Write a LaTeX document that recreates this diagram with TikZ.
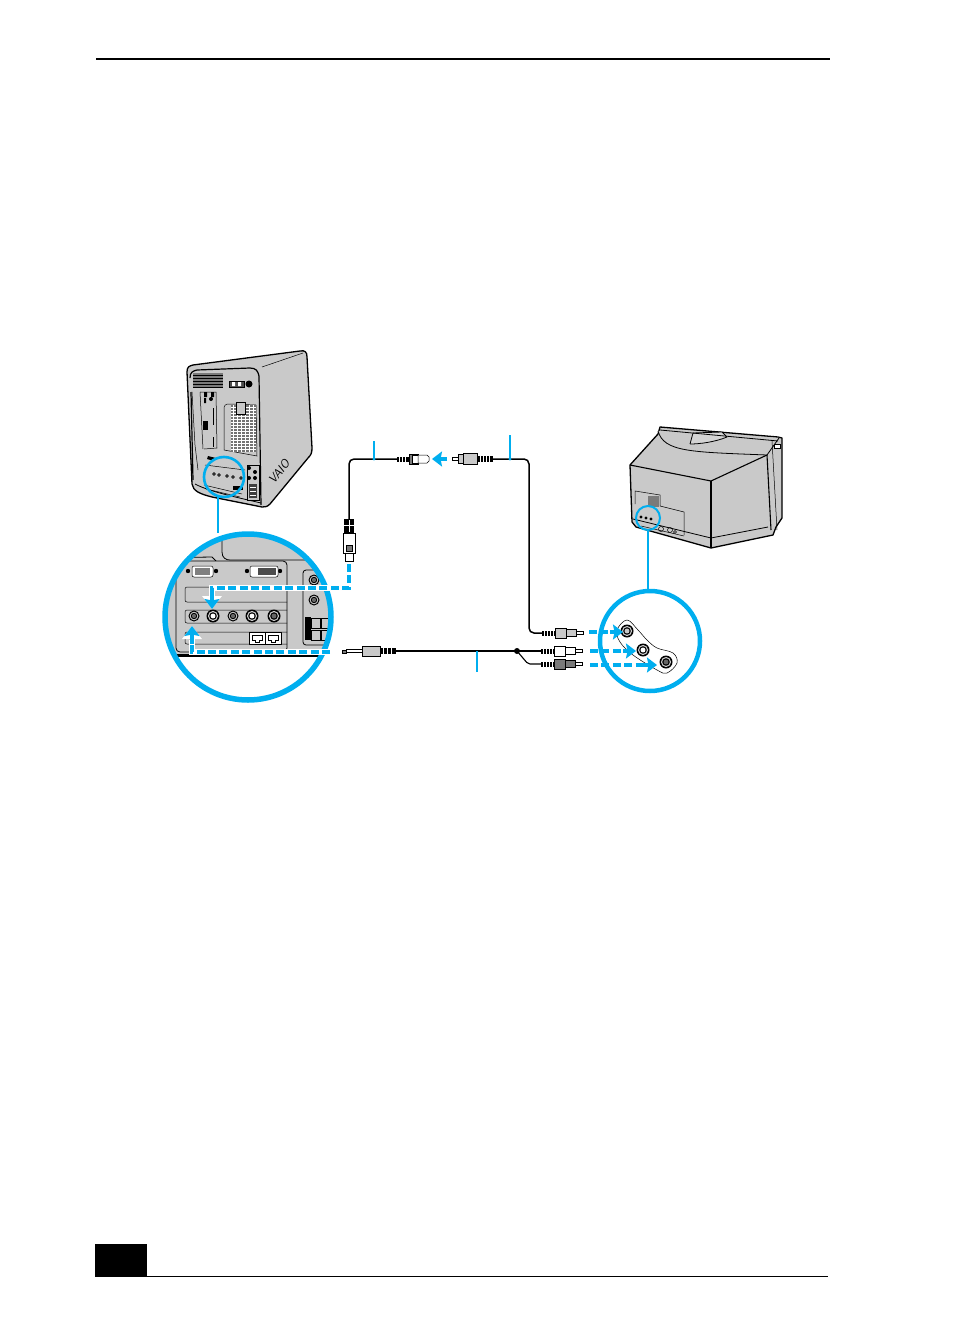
\documentclass[tikz,border=0pt]{standalone}
\usepackage{xcolor}
\usetikzlibrary{arrows.meta}
\definecolor{vaioblue}{HTML}{00AEEF}
\definecolor{casegray}{HTML}{C9C9C9}
\definecolor{darkgray}{HTML}{7A7A7A}
\tikzset{
  % Hardware outlines
  hw/.style={draw=black, line width=0.8pt, line join=round},
  thin/.style={draw=black, line width=0.5pt},
  % Cables and blue call-outs
  cable/.style={draw=black, line width=1.5pt, rounded corners=5pt},
  leader/.style={draw=vaioblue, line width=1.1pt},
  ring/.style={draw=vaioblue, line width=4.5pt},
  dashhalo/.style={draw=white, line width=5.4pt},
  dashblue/.style={draw=vaioblue, line width=3.2pt, dash pattern=on 8pt off 3.4pt},
  blockhalo/.style={draw=white, line width=5pt, -{Stealth[inset=0pt,length=13pt,width=19pt]}},
  blockarrow/.style={draw=vaioblue, line width=3.2pt, -{Stealth[inset=1.5pt,length=10pt,width=15pt]}},
}
% jack: x, y, radius, centre colour
\newcommand{\jack}[4]{%
  \fill[black] (#1,#2) circle ({#3});
  \fill[casegray] (#1,#2) circle ({0.78*#3});
  \fill[black] (#1,#2) circle ({0.58*#3});
  \fill[#4] (#1,#2) circle ({0.38*#3});}
% RCA plug pointing right: x, y, body colour
\newcommand{\rcaplug}[3]{%
  \fill[black] (#1,#2-2.5) rectangle (#1+13,#2+2.5);
  \foreach \i in {2,5,8,11} {\fill[white] (#1+\i,#2-3) rectangle (#1+\i+0.8,#2+3);}
  \draw[thin, fill=#3] (#1+13,#2-5) rectangle (#1+24,#2+5);
  \draw[thin, fill=#3] (#1+24,#2-3.5) rectangle (#1+34,#2+3.5);
  \draw[thin, fill=white] (#1+34,#2-1.5) rectangle (#1+41,#2+1.5);}
% white-edged blue arrow head
\newcommand{\haloarrow}[4]{%
  \draw[blockhalo] (#1,#2) -- (#3,#4);
  \draw[blockarrow] (#1,#2) -- (#3,#4);}

\begin{document}
\begin{tikzpicture}[x=1pt,y=-1pt]
  \useasboundingbox (0,0) rectangle (954,1340);

  % page rules
  \fill[black] (96,58) rectangle (830,60);
  \fill[black] (95,1244) rectangle (147,1277);
  \fill[black] (147,1275.5) rectangle (828,1277);

  % computer
  \draw[hw, fill=casegray, line width=1.3pt] (187,372) .. controls (187,367) and (189,366) .. (193,365)
     -- (300,351) .. controls (305,350) and (307,352) .. (307,357) -- (312,448)
     .. controls (312,453) and (311,455) .. (308,458) -- (270,504)
     .. controls (267,507) and (265,507) .. (262,507) -- (212,497)
     .. controls (200,494) and (193,491) .. (192,484) -- cycle;
  \draw[hw, line width=1.2pt] (190,378) .. controls (190,372) and (193,371) .. (197,370) -- (250,368)
     .. controls (256,368) and (258,371) .. (259,376) -- (261,505);
  \draw[hw] (195,484) .. controls (210,492) and (240,498) .. (261,503);
  \draw[thin] (262,367) -- (303,353);
  \fill[darkgray] (193,373) rectangle (223,388);
  \foreach \i in {375,378,...,387} {\draw[black, line width=0.5pt] (193,\i) -- (223,\i);}
  \draw[thin, fill=black!70] (229,381) rectangle (244,387);
  \fill[white] (232,382) rectangle (235,386) (238,382) rectangle (241,386);
  \fill[black] (249,384) circle (3.5);
  % expansion slots and vent
  \draw[hw, line width=1.2pt] (191,392) -- (193,480);
  \draw[thin] (192,392) -- (195,445) -- (198,470);
  \draw[thin] (200,392) -- (216,392) -- (217,448) -- (204,449);
  \draw[thin] (200,392) -- (203,449);
  \fill[black] (204,392) rectangle (207,397) (211,392) rectangle (214,397);
  \fill[black] (204,398) rectangle (206,403) (211,399) circle (2);
  \draw[thin] (213,408) -- (213,425) (213,437) -- (213,447);
  \fill[black] (203,421) rectangle (208,430);
  \draw[thin, fill=casegray] (224,410) .. controls (224,405) and (225,404) .. (230,404) -- (256,405) -- (257,456) -- (224,450) -- cycle;
  \fill[black!55] (231,405) rectangle (256,452);
  \foreach \i in {407,410,...,451} {\draw[white, line width=0.5pt] (231,\i) -- (256,\i);}
  \foreach \i in {233,237,...,255} {\draw[white, line width=0.5pt] (\i,405) -- (\i,452);}
  \draw[thin, fill=casegray] (236,402) rectangle (245,414);
  \fill[black] (208,456) -- (216,458) -- (214,461) -- (207,459) -- cycle;
  % rear connectors
  \draw[thin] (205,465) -- (245,470) (204,485) -- (242,494) (206,489) -- (240,497);
  \foreach \i/\j in {214/474,219/475,227/476,233/477,241/478} {\fill[black] (\i,\j) circle (1.8); \fill[casegray] (\i,\j) circle (0.7);}
  \fill[black] (233,486) rectangle (243,490);
  \draw[thin, fill=casegray] (247,465) rectangle (259,500);
  \fill[black] (249,468) circle (2) (255,472) circle (2) (249,478) circle (2) (255,478) circle (2);
  \fill[black!75] (249,484) rectangle (257,498);
  \foreach \i in {487,491,495} {\fill[white] (250,\i) rectangle (256,\i+1);}
  % logo
  \node[font=\itshape\sffamily\large, rotate=52, text=black, inner sep=0pt] (logo) at (279,472) {VAIO};
  \draw[ring, line width=2.6pt] (224,477) circle (20);
  \draw[ring, line width=2pt] (218,497) -- (218,533);

  % television
  \draw[hw, fill=casegray, line width=1.3pt] (630,465) -- (658,434) -- (660,427) -- (778,437) -- (782,438)
     -- (782,518) -- (776,527) -- (773,535) -- (711,548) -- (636,527) -- (632,522) -- cycle;
  \draw[hw, fill=casegray] (658,431) .. controls (664,452) and (690,452) .. (767,455) -- (779,438);
  \draw[hw, fill=casegray!80] (690,444) -- (693,433) -- (722,432) -- (727,437) .. controls (715,442) and (700,444) .. (690,444);
  \draw[hw] (660,430) -- (778,441);
  \draw[hw, line width=1.1pt] (630,465) -- (711,481) -- (767,455) -- (771,530);
  \draw[hw, line width=1.1pt] (711,481) -- (711,548);
  \draw[hw] (711,538) -- (768,527);
  \draw[hw] (633,519) -- (711,538);
  \draw[thin] (772,441) -- (777,530);
  \fill[white, draw=black, line width=0.4pt] (774,444) rectangle (780,448);
  \draw[thin] (635,504) -- (635,491) -- (660,495) -- (660,506) -- (684,512) -- (684,535);
  \draw[thin] (641,526) -- (684,536);
  \fill[darkgray] (648,496) rectangle (659,507);
  \foreach \i/\j in {641/517,646/518,651/519} {\fill[black] (\i,\j) circle (1.7);}
  \draw[thin] (661,529) circle (2.5) (670,530) circle (2.5) (675,532) circle (1.5);
  \draw[ring, line width=2pt] (648,518) circle (12);
  \draw[ring, line width=2pt] (648,530) -- (648,590);

  % enlarged computer panel
  \begin{scope}
    \clip (248,617) circle (84);
    \fill[casegray] (150,530) rectangle (340,654);
    \fill[white] (150,656) rectangle (340,710);
    \fill[black] (150,654) rectangle (340,656.5);
    \draw[hw] (222,530) -- (222,552) .. controls (222,558) and (226,560) .. (230,560) -- (340,560);
    \draw[hw] (150,558) -- (212,557) -- (216,561);
    \draw[hw, fill=casegray, rounded corners=4pt] (176,652) -- (176,561) -- (287,561) -- (287,652) -- cycle;
    \draw[hw, fill=casegray, rounded corners=3pt] (342,570) -- (303,570) -- (303,645) -- (342,645);
    \draw[thin, rounded corners=2pt] (287,587) -- (185,587) -- (185,602) -- (287,602);
    \draw[thin, rounded corners=2pt] (287,610) -- (185,610) -- (185,623) -- (287,623);
    \draw[thin, rounded corners=2pt] (287,632) -- (185,632) -- (185,644) -- (287,644);
    % VGA and DVI
    \draw[thin, fill=white, rounded corners=2pt] (192,566) rectangle (213,577);
    \fill[black!50] (195,568) rectangle (210,575);
    \fill[black] (188,571) circle (2.2) (216,571) circle (2.2) (247,571) circle (2.2) (280,571) circle (2.2);
    \draw[thin, fill=white, rounded corners=2pt] (250,566) rectangle (278,577);
    \fill[black!70] (258,568) rectangle (276,575);
    % audio and video jacks
    \jack{194}{616}{5.5}{black!60}
    \jack{213}{616}{6.5}{white}
    \jack{233}{616}{5.5}{black!60}
    \jack{252}{616}{6.5}{white}
    \jack{274}{616}{6.5}{black!60}
    % modem and network
    \draw[hw, fill=white] (249,632) rectangle (265,644);
    \draw[hw, fill=white] (265,632) rectangle (281,644);
    \draw[thin] (252,635) -- (262,635) -- (262,640) -- (259,640) -- (259,642) -- (255,642) -- (255,640) -- (252,640) -- cycle;
    \draw[thin] (268,635) -- (278,635) -- (278,640) -- (275,640) -- (275,642) -- (271,642) -- (271,640) -- (268,640) -- cycle;
    % second panel
    \jack{314}{580}{5.5}{black!60}
    \jack{314}{600}{5.5}{black!60}
    \fill[black] (305,617) rectangle (311,640);
    \draw[thin, fill=casegray] (311,618) rectangle (320,628);
    \draw[thin, fill=casegray] (311,630) rectangle (320,640);
    \draw[thin, fill=casegray] (321,618) rectangle (330,628);
    \draw[thin, fill=casegray] (321,630) rectangle (330,640);
  \end{scope}
  \draw[ring, line width=5.5pt] (248,617) circle (83);

  % enlarged television panel
  \draw[ring] (650,641) circle (50);
  \draw[thin] plot[smooth cycle, tension=0.6] coordinates {(627,620) (638,630) (647,640) (657,648) (673,653) (677,663) (667,673) (657,670) (633,655) (620,642) (617,630)};
  \jack{627}{631}{6.5}{casegray}
  \jack{643}{650}{6.5}{white}
  \jack{666}{662}{6.5}{black!60}

  % cables
  \draw[cable] (349,520) -- (349,459) -- (398,459);
  \draw[cable] (492,459) -- (529,459) -- (529,633) -- (542,633);
  \draw[cable, rounded corners=0pt] (396,651) -- (541,651);
  \draw[cable, line width=1.1pt, rounded corners=2pt] (517,651) -- (528,664) -- (541,664);
  \fill[black] (517,651) circle (3);

  % S-video plug
  \fill[black] (344,519) rectangle (354,533);
  \draw[white, line width=0.6pt] (349,520) -- (349,532) (344,525) -- (354,525);
  \draw[thin, fill=white] (343,533) rectangle (355,553);
  \draw[thin, fill=white] (345,553) rectangle (353,561);
  \draw[thin, fill=darkgray] (346,545) rectangle (352,551);
  % S-video socket end
  \fill[black] (397,456.5) rectangle (409,461.5);
  \foreach \i in {399,402,405} {\fill[white] (\i,456) rectangle (\i+0.8,462);}
  \draw[thin, fill=darkgray] (409,454) rectangle (418,464);
  \draw[thin, fill=white] (412,455) rectangle (418,463);
  \draw[thin, fill=white] (418,455) -- (427,455) -- (429,457) -- (429,461) -- (427,463) -- (418,463) -- cycle;
  % RCA plug to the left
  \draw[thin, fill=white] (452,457.5) rectangle (458,460.5);
  \draw[thin, fill=casegray] (458,454.5) rectangle (463,463.5);
  \draw[thin, fill=casegray] (463,453.5) rectangle (477,464.5);
  \fill[black] (477,456) rectangle (493,462);
  \foreach \i in {480,483,486,489} {\fill[white] (\i,455.5) rectangle (\i+0.8,462.5);}
  % stereo mini plug
  \draw[thin, fill=darkgray] (342,650) rectangle (346,653);
  \draw[thin, fill=white] (346,649.5) rectangle (362,652.5);
  \draw[thin, fill=casegray] (362,646.5) rectangle (380,656);
  \fill[black] (380,648) rectangle (396,654);
  \foreach \i in {383,387,391} {\fill[white] (\i,647.5) rectangle (\i+0.8,654.5);}
  % RCA plugs
  \rcaplug{542}{633}{casegray}
  \rcaplug{541}{651}{white}
  \rcaplug{541}{664}{darkgray}

  % leaders
  \draw[leader] (374,441) -- (374,459);
  \draw[leader] (510,435) -- (510,459);
  \draw[leader, line width=1.5pt] (477,651) -- (477,672);
  \fill[vaioblue] (374,459) circle (1.6) (510,459) circle (1.6);

  % connection arrows
  \draw[blockarrow] (447,459) -- (432,459);
  \draw[dashhalo] (349,564) -- (349,588) -- (212,588) -- (212,596);
  \draw[dashblue] (349,564) -- (349,588) -- (212,588) -- (212,596);
  \haloarrow{212}{592}{212}{609}
  \draw[dashhalo] (330,652) -- (192,652) -- (192,640);
  \draw[dashblue] (330,652) -- (192,652) -- (192,640);
  \haloarrow{192}{644}{192}{626}
  \draw[dashblue] (589,632) -- (612,632);
  \draw[blockarrow] (610,632) -- (623,632);
  \draw[dashblue] (590,651) -- (625,651);
  \draw[blockarrow] (623,651) -- (636,651);
  \draw[dashblue] (590,665) -- (646,665);
  \draw[blockarrow] (644,665) -- (657,665);
\end{tikzpicture}
\end{document}
